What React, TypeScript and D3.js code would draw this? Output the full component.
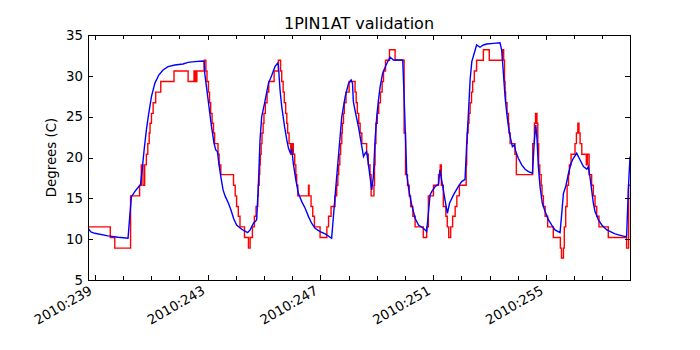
import React from 'react';
import * as d3 from 'd3';

// measured (red, stepped) : day of year 2010 -> degrees C
const measuredDays = [
  238.76, 239.55, 239.71, 240.27, 240.59, 240.65, 240.71, 240.77, 240.83, 240.88,
  240.93, 240.96, 241.01, 241.07, 241.16, 241.34, 241.81, 242.31, 242.52, 242.57,
  242.62, 242.88, 242.94, 242.98, 243.03, 243.07, 243.11, 243.16, 243.21, 243.25,
  243.37, 243.41, 243.47, 243.92, 243.98, 244.03, 244.09, 244.15, 244.31, 244.45,
  244.51, 244.59, 244.66, 244.72, 244.78, 244.8, 244.83, 244.85, 244.87, 244.9,
  244.93, 244.97, 245.0, 245.05, 245.11, 245.17, 245.36, 245.51, 245.59, 245.63,
  245.68, 245.72, 245.77, 245.81, 245.84, 245.89, 245.95, 245.99, 246.04, 246.09,
  246.13, 246.16, 246.2, 246.58, 246.6, 246.67, 246.73, 246.79, 246.99, 247.23,
  247.29, 247.38, 247.52, 247.58, 247.62, 247.65, 247.69, 247.72, 247.76, 247.78,
  247.82, 247.85, 247.91, 248.02, 248.23, 248.27, 248.31, 248.36, 248.41, 248.47,
  248.64, 248.7, 248.76, 248.8, 248.9, 248.92, 248.94, 248.97, 249.02, 249.07,
  249.13, 249.19, 249.24, 249.31, 249.45, 249.65, 249.97, 250.02, 250.09, 250.15,
  250.2, 250.28, 250.36, 250.65, 250.77, 250.83, 251.01, 251.19, 251.25, 251.29,
  251.36, 251.45, 251.5, 251.55, 251.62, 251.69, 251.78, 251.84, 251.93, 252.17,
  252.19, 252.21, 252.24, 252.27, 252.31, 252.36, 252.4, 252.46, 252.54, 252.78,
  252.99, 253.46, 253.5, 253.53, 253.55, 253.57, 253.62, 253.67, 253.69, 253.73,
  253.9, 253.95, 254.53, 254.59, 254.63, 254.68, 254.71, 254.74, 254.78, 254.83,
  254.86, 254.91, 254.97, 255.06, 255.26, 255.51, 255.55, 255.62, 255.65, 255.7,
  255.75, 255.8, 255.83, 255.89, 256.03, 256.08, 256.13, 256.17, 256.21, 256.27,
  256.43, 256.47, 256.53, 256.62, 256.68, 256.74, 256.8, 256.88, 257.21, 257.86,
  257.93, 257.98,
];
const measuredTemps = [
  11.5, 10.2, 8.9, 15.3, 16.6, 19.1, 16.6, 19.1, 20.4, 21.7,
  23.0, 24.2, 25.4, 26.7, 28.0, 29.3, 30.6, 29.3, 30.6, 29.3,
  30.6, 31.9, 30.6, 29.3, 28.0, 26.7, 25.4, 24.2, 23.0, 21.7,
  20.4, 19.1, 17.9, 16.6, 15.3, 14.0, 12.8, 11.5, 10.2, 8.9,
  10.2, 11.5, 12.8, 14.0, 15.3, 16.6, 17.9, 19.1, 20.4, 21.7,
  23.0, 24.2, 25.4, 26.7, 28.0, 29.3, 30.6, 31.9, 30.6, 29.3,
  28.0, 26.7, 25.4, 24.2, 23.0, 21.7, 20.4, 21.7, 20.4, 19.1,
  17.9, 16.6, 15.3, 16.6, 15.3, 14.0, 12.8, 11.5, 10.2, 11.5,
  12.8, 14.0, 15.3, 16.6, 17.9, 19.1, 20.4, 21.7, 23.0, 24.2,
  25.4, 26.7, 28.0, 29.3, 28.0, 26.7, 25.4, 24.2, 23.0, 21.7,
  20.4, 19.1, 17.9, 15.3, 16.6, 19.1, 21.7, 24.2, 25.4, 26.7,
  28.0, 29.3, 30.6, 31.9, 33.2, 31.9, 23.0, 17.9, 16.6, 15.3,
  14.0, 12.8, 11.5, 10.2, 11.5, 15.3, 16.6, 17.9, 19.1, 16.6,
  14.0, 12.8, 11.5, 10.2, 11.5, 12.8, 14.0, 15.3, 16.6, 19.1,
  21.7, 23.0, 24.2, 25.4, 26.7, 28.0, 29.3, 30.6, 31.9, 33.2,
  31.9, 33.2, 31.9, 29.3, 28.0, 26.7, 25.4, 24.2, 23.0, 21.7,
  20.4, 17.9, 21.7, 24.2, 25.4, 24.2, 21.7, 19.1, 17.9, 16.6,
  15.3, 14.0, 12.8, 11.5, 10.2, 8.9, 7.7, 8.9, 11.5, 14.0,
  16.6, 17.9, 19.1, 20.4, 21.7, 23.0, 24.2, 23.0, 21.7, 20.4,
  19.1, 20.4, 17.9, 16.6, 15.3, 14.0, 12.8, 11.5, 10.2, 8.9,
  16.6, 16.6,
];

// model (blue)
const modelDays = [
  238.76, 238.86, 239.0, 239.47, 239.83, 240.18, 240.24, 240.3, 240.42, 240.54,
  240.62, 240.68, 240.75, 240.83, 240.91, 241.01, 241.13, 241.27, 241.42, 241.6,
  241.84, 242.13, 242.31, 242.54, 242.84, 242.88, 242.9, 242.96, 243.02, 243.08,
  243.14, 243.23, 243.29, 243.35, 243.4, 243.47, 243.55, 243.62, 243.74, 243.83,
  243.92, 244.03, 244.21, 244.42, 244.51, 244.63, 244.74, 244.8, 244.86, 244.92,
  245.02, 245.16, 245.28, 245.39, 245.48, 245.51, 245.57, 245.63, 245.73, 245.81,
  245.87, 245.93, 245.99, 246.04, 246.13, 246.22, 246.34, 246.46, 246.58, 246.69,
  246.81, 246.99, 247.17, 247.4, 247.52, 247.64, 247.76, 247.88, 248.0, 248.09,
  248.14, 248.17, 248.25, 248.35, 248.47, 248.53, 248.59, 248.64, 248.7, 248.82,
  248.88, 248.94, 249.0, 249.06, 249.12, 249.21, 249.33, 249.47, 249.59, 249.92,
  249.97, 250.03, 250.06, 250.12, 250.18, 250.24, 250.3, 250.36, 250.48, 250.65,
  250.77, 250.83, 250.89, 250.95, 251.07, 251.19, 251.24, 251.3, 251.42, 251.505,
  251.58, 251.72, 251.89, 252.01, 252.13, 252.19, 252.25, 252.31, 252.37, 252.49,
  252.54, 252.66, 252.78, 252.9, 253.14, 253.37, 253.43, 253.49, 253.55, 253.61,
  253.67, 253.73, 253.81, 253.88, 253.93, 254.02, 254.14, 254.26, 254.38, 254.52,
  254.59, 254.64, 254.685, 254.73, 254.79, 254.87, 254.97, 255.09, 255.2, 255.32,
  255.5, 255.56, 255.62, 255.7, 255.8, 255.89, 255.97, 256.09, 256.21, 256.33,
  256.45, 256.5, 256.56, 256.62, 256.68, 256.74, 256.86, 256.98, 257.16, 257.45,
  257.805, 257.86, 257.92, 257.98,
];
const modelTemps = [
  11.34, 10.9, 10.72, 10.4, 10.23, 10.11, 12.76, 15.21, 15.82, 16.35,
  16.64, 18.48, 20.92, 23.37, 25.3, 27.45, 29.08, 30.1, 30.72, 31.12,
  31.33, 31.45, 31.65, 31.74, 31.82, 31.7, 30.31, 28.68, 27.04, 25.41,
  23.78, 21.74, 20.92, 20.72, 19.29, 17.66, 16.03, 15.3, 14.4, 13.58,
  12.56, 11.74, 11.21, 10.81, 11.13, 11.95, 12.36, 16.44, 22.15, 25.0,
  26.64, 29.08, 30.1, 31.12, 31.53, 31.33, 28.27, 26.23, 23.78, 22.15,
  21.13, 20.6, 20.92, 19.29, 17.25, 15.62, 14.6, 13.78, 12.76, 11.95,
  11.34, 10.93, 10.64, 10.11, 15.21, 20.11, 25.0, 27.45, 29.08, 29.49,
  29.08, 26.84, 25.41, 23.78, 21.33, 20.11, 20.52, 20.72, 19.29, 16.03,
  17.66, 22.15, 25.0, 27.04, 28.68, 30.31, 31.33, 32.3, 31.94, 31.94,
  27.45, 21.33, 18.07, 16.44, 15.21, 14.19, 13.38, 12.56, 11.74, 11.34,
  10.93, 13.17, 15.42, 15.82, 16.44, 16.76, 18.48, 17.25, 14.8, 13.17,
  14.4, 15.42, 16.44, 17.05, 17.33, 21.74, 25.41, 29.49, 31.74, 33.16,
  33.78, 33.5, 33.78, 33.9, 33.98, 34.05, 33.16, 30.31, 27.45, 25.41,
  23.78, 22.56, 21.33, 21.54, 20.72, 19.9, 19.09, 18.56, 18.27, 18.07,
  22.15, 23.98, 22.15, 18.88, 16.44, 14.4, 13.38, 12.36, 11.74, 11.13,
  10.81, 13.17, 15.62, 16.44, 18.07, 19.29, 19.9, 20.52, 19.7, 18.88,
  18.56, 18.88, 17.66, 16.03, 14.4, 13.38, 12.36, 11.74, 11.13, 10.64,
  10.32, 10.32, 16.03, 20.11,
];

const yTicks = [5, 10, 15, 20, 25, 30, 35];
const xTickDays = [239, 243, 247, 251, 255];
const xTickLabels = ['2010:239', '2010:243', '2010:247', '2010:251', '2010:255'];
const minorDays = [239, 240, 241, 242, 243, 244, 245, 246, 247, 248, 249, 250, 251, 252, 253, 254, 255, 256, 257];

const W = 700;
const H = 350;
const margin = { top: 35, right: 70, bottom: 70, left: 88 };
const FONT = '"DejaVu Sans", sans-serif';

const App = () => {
  const x = d3.scaleLinear().domain([238.76, 257.98]).range([margin.left, W - margin.right]);
  const y = d3.scaleLinear().domain([5, 35]).range([H - margin.bottom, margin.top]);
  const left = margin.left;
  const right = W - margin.right;
  const top = margin.top;
  const bottom = H - margin.bottom;

  const idxM = measuredDays.map((_, i) => i);
  const idxB = modelDays.map((_, i) => i);

  const redLine = d3.line<number>()
    .x(i => x(measuredDays[i]))
    .y(i => y(measuredTemps[i]))
    .curve(d3.curveStepAfter);

  const blueLine = d3.line<number>()
    .x(i => x(modelDays[i]))
    .y(i => y(modelTemps[i]));

  const a = 10.1; // approx ascent of tick label text
  const d = 3.2;

  return (
    <svg width={W} height={H} style={{ position: 'absolute', left: 0, top: 0, background: '#fff' }}
      fontFamily={FONT}>
      <defs>
        <clipPath id="plot-clip">
          <rect x={left} y={top} width={right - left} height={bottom - top} />
        </clipPath>
      </defs>
      <rect x={0} y={0} width={W} height={H} fill="#fff" />

      <g clipPath="url(#plot-clip)">
        <path d={redLine(idxM) || ''} fill="none" stroke="#ff0000" strokeWidth={1.4} />
        <path d={blueLine(idxB) || ''} fill="none" stroke="#0000ff" strokeWidth={1.4} />
      </g>

      {/* ticks */}
      <g stroke="#000" strokeWidth={1} shapeRendering="crispEdges">
        {yTicks.map(t => (
          <g key={'y' + t}>
            <line x1={left} x2={left + 5} y1={Math.round(y(t)) + 0.5} y2={Math.round(y(t)) + 0.5} />
            <line x1={right} x2={right - 5} y1={Math.round(y(t)) + 0.5} y2={Math.round(y(t)) + 0.5} />
          </g>
        ))}
        {minorDays.map(dd => {
          const len = xTickDays.includes(dd) ? 5 : 4;
          const px = Math.round(x(dd)) + 0.5;
          return (
            <g key={'x' + dd}>
              <line x1={px} x2={px} y1={bottom} y2={bottom - len} />
              <line x1={px} x2={px} y1={top} y2={top + len} />
            </g>
          );
        })}
        <rect x={left + 0.5} y={top + 0.5} width={right - left} height={bottom - top} fill="none" />
      </g>

      {/* y tick labels */}
      {yTicks.map(t => (
        <text key={'yl' + t} x={left - 5} y={y(t)} dy="0.36em" textAnchor="end" fontSize={13.33} fill="#000">
          {t}
        </text>
      ))}

      {/* x tick labels, rotated */}
      {xTickDays.map((dd, i) => {
        const ax = x(dd) - 0.5 * d;
        const ay = bottom + 4.4 + 0.866 * a;
        return (
          <text key={'xl' + dd} transform={`translate(${ax},${ay}) rotate(-30)`} textAnchor="end"
            fontSize={13.33} fill="#000">
            {xTickLabels[i]}
          </text>
        );
      })}

      {/* y axis label */}
      <text transform={`translate(56,${(top + bottom) / 2}) rotate(-90)`} textAnchor="middle" fontSize={13.33} fill="#000">
        Degrees (C)
      </text>

      {/* title */}
      <text x={(left + right) / 2} y={28.5} textAnchor="middle" fontSize={16} fill="#000">
        1PIN1AT validation
      </text>
    </svg>
  );
};

export default App;
